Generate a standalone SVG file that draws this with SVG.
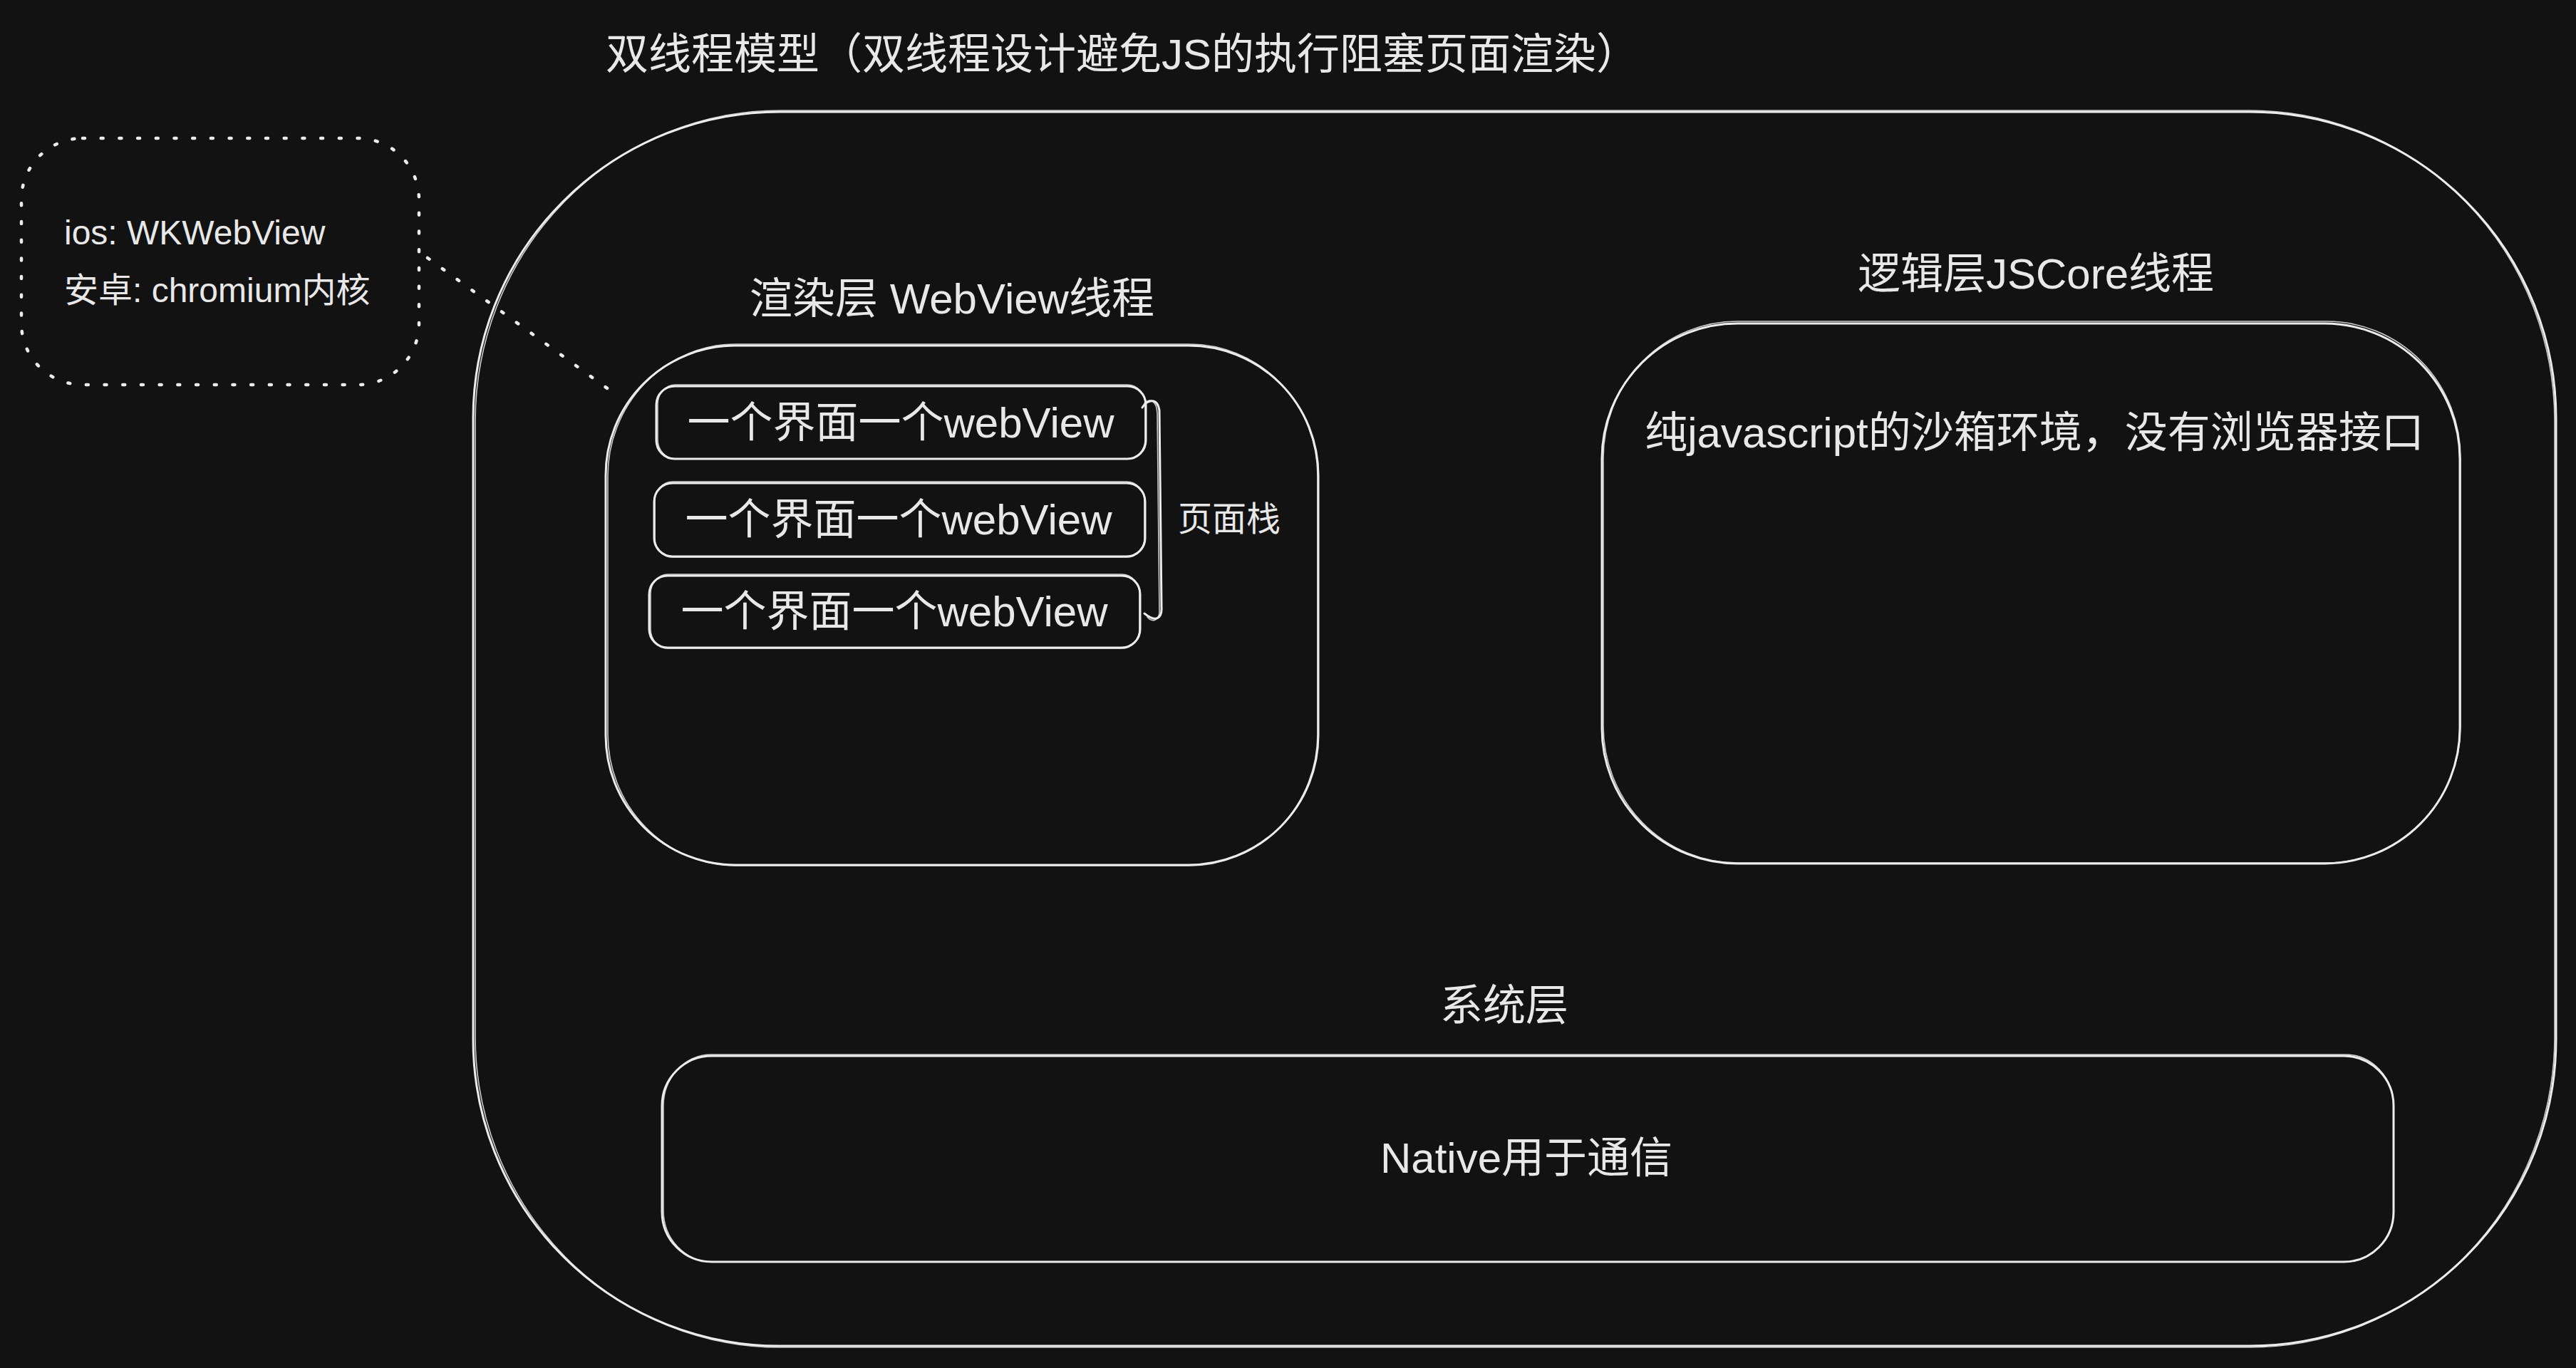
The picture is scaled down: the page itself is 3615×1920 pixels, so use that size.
<svg xmlns="http://www.w3.org/2000/svg" width="3615" height="1920" viewBox="0 0 3615 1920">
<defs>
<style>
.bg{fill:#121212}
.box{fill:none;stroke:#ececec;stroke-width:3;stroke-linejoin:round;stroke-linecap:round}
.box2{fill:none;stroke:#ececec;stroke-width:1.6;stroke-linejoin:round;stroke-linecap:round;opacity:0.85}
.dot{fill:none;stroke:#ececec;stroke-width:4.5;stroke-linecap:round;stroke-dasharray:3 22.7}
.t{fill:#e8e8e8;font-family:"Liberation Sans","Noto Sans CJK SC",sans-serif}
.t60{font-size:60px}
.t48{font-size:48px}
.mid{text-anchor:middle}
</style>
</defs>
<rect class="bg" x="0" y="0" width="3615" height="1920"/>

<g id="title">
<text class="t t60" x="850" y="97">双线程模型（双线程设计避免JS的执行阻塞页面渲染）</text>
</g>

<g id="node-container">
<rect class="box" x="664" y="157" width="2923" height="1732" rx="430" ry="430"/>
<rect class="box2" x="667" y="155" width="2918" height="1736" rx="428" ry="436"/>
</g>

<g id="node-platform">
<rect class="dot" x="30" y="194" width="558" height="346" rx="86" ry="86"/>
<text class="t t48" x="90" y="343">ios: WKWebView</text>
<text class="t t48" x="90" y="424">安卓: chromium内核</text>
</g>

<g id="node-render">
<text class="t t60 mid" x="1336" y="440">渲染层 WebView线程</text>
<rect class="box" x="850" y="485" width="1000" height="729" rx="182" ry="182"/>
<rect class="box2" x="853" y="483" width="996" height="732" rx="180" ry="185"/>
</g>

<g id="node-webview-1">
<rect class="box" x="921" y="542" width="687" height="102" rx="26" ry="26"/>
<rect class="box2" x="923" y="540" width="684" height="104" rx="25" ry="27"/>
<text class="t t60 mid" x="1264" y="614">一个界面一个webView</text>
</g>

<g id="node-webview-2">
<rect class="box" x="918" y="678" width="689" height="103" rx="26" ry="26"/>
<rect class="box2" x="919" y="676" width="687" height="106" rx="25" ry="27"/>
<text class="t t60 mid" x="1261" y="750">一个界面一个webView</text>
</g>

<g id="node-webview-3">
<rect class="box" x="911" y="808" width="689" height="101" rx="26" ry="26"/>
<rect class="box2" x="913" y="806" width="686" height="104" rx="25" ry="27"/>
<text class="t t60 mid" x="1255" y="879">一个界面一个webView</text>
</g>

<g id="node-page-stack">
<path class="box" d="M1603,572 C1609,562 1624,556 1627,576 L1630,852 C1631,868 1622,874 1606,861"/>
<path class="box2" d="M1606,566 C1614,558 1623,562 1624,580 L1627,860 C1626,871 1617,874 1610,866"/>
<text class="t t48" x="1653" y="745">页面栈</text>
</g>

<g id="node-logic">
<text class="t t60 mid" x="2857" y="405">逻辑层JSCore线程</text>
<rect class="box" x="2248" y="454" width="1204" height="758" rx="190" ry="190"/>
<rect class="box2" x="2250" y="451" width="1203" height="760" rx="188" ry="192"/>
<text class="t t60 mid" x="2855" y="628">纯javascript的沙箱环境，没有浏览器接口</text>
</g>

<g id="node-system">
<text class="t t60 mid" x="2111" y="1432">系统层</text>
<rect class="box" x="929" y="1482" width="2430" height="289" rx="70" ry="70"/>
<rect class="box2" x="931" y="1480" width="2428" height="291" rx="68" ry="72"/>
<text class="t t60 mid" x="2142" y="1646">Native用于通信</text>
</g>

<g id="connectors">
<path class="dot" d="M600,362 L870,558"/>
</g>
</svg>
